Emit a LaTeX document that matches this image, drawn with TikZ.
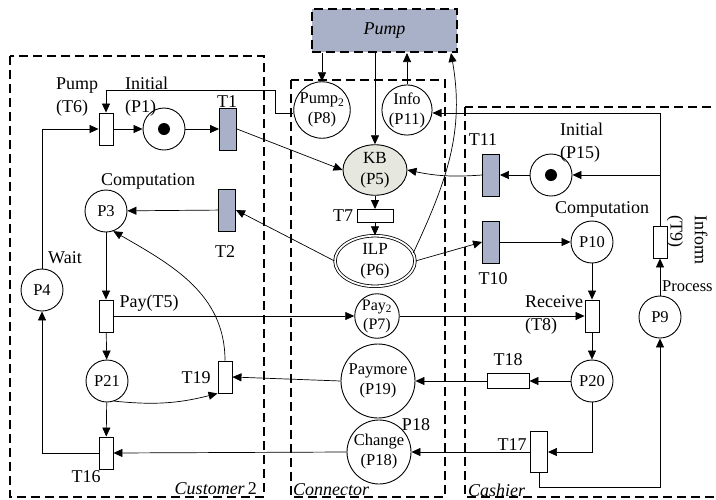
\documentclass[tikz,border=0pt]{standalone}
\usepackage{fontspec}
\setmainfont{Liberation Serif}
\usetikzlibrary{arrows.meta,shapes.geometric}
\definecolor{transfill}{RGB}{169,177,200}
\definecolor{kbfill}{RGB}{230,231,222}

\begin{document}
\begin{tikzpicture}[x=1pt, y=-1pt, >={Triangle[length=9pt,width=8pt]},
    every node/.style={inner sep=0pt},
    placenode/.style={circle, draw, line width=0.9pt, minimum size=42pt, align=center,
      font=\fontsize{16.5}{20}\selectfont},
    tokendot/.style={circle, fill, minimum size=12pt},
    transnode/.style={rectangle, draw, line width=0.9pt, fill=white, minimum width=14pt, minimum height=32pt},
    ftrans/.style={transnode, fill=transfill, minimum width=17pt, minimum height=42pt},
    htrans/.style={transnode, minimum width=36pt, minimum height=13pt},
    groupbox/.style={line width=2pt, dash pattern=on 9pt off 5pt},
    lbl/.style={font=\fontsize{18}{23}\selectfont, align=left},
    flow/.style={->, line width=0.7pt}]
    \useasboundingbox (0,0) rectangle (716,499);

    % Dashed boxes for the three parts
    \draw[groupbox] (10,56) rectangle (264,497);
    \draw[groupbox] (291,80) rectangle (445,497);
    \draw[groupbox] (465,107) rectangle (730,497);
    \node[lbl, anchor=east] (cust) at (257,489) {\textit{Customer}\,2};
    \node[lbl, anchor=west] (conn) at (293,490) {\textit{Connector}};
    \node[lbl, anchor=west] (cash) at (468,490) {\textit{Cashier}};

    % Pump box on top
    \node[groupbox, draw, fill=transfill, minimum width=145pt, minimum height=43pt,
      font=\fontsize{18}{22}\selectfont] (pump) at (384.5,30.5) {\textit{Pump}};

    % Customer part
    \node[placenode] (p1) at (164,129) {};
    \node[tokendot] (tok1) at (p1) {};
    \node[transnode] (t6) at (106,129) {};
    \node[ftrans] (t1) at (228,129) {};
    \node[placenode] (p4) at (42,290) {P4};
    \node[placenode] (p3) at (106,211) {P3};
    \node[ftrans] (t2) at (227,210) {};
    \node[transnode] (t5) at (106,316) {};
    \node[placenode] (p21) at (107,381) {P21};
    \node[transnode] (t19) at (225,377) {};
    \node[transnode] (t16) at (106,453) {};

    \node[lbl, anchor=west] (lt6) at (56,97) {Pump\\(T6)};
    \node[lbl, anchor=west] (lp1) at (125,97) {Initial\\(P1)};
    \node[lbl] (lt1) at (227,102) {T1};
    \node[lbl] (lp3) at (148,181) {Computation};
    \node[lbl] (lt2) at (225,252) {T2};
    \node[lbl] (lp4) at (65,258) {Wait};
    \node[lbl] (lt5) at (149,303) {Pay(T5)};
    \node[lbl] (lt19) at (196,378) {T19};
    \node[lbl] (lt16) at (86,477) {T16};

    % Connector part
    \node[placenode, minimum size=50pt] (p8) at (322,110) {Pump\textsubscript{2}\\(P8)};
    \node[placenode, minimum size=48pt] (p11) at (407,110) {Info\\(P11)};
    \node[ellipse, draw, line width=0.9pt, fill=kbfill, minimum width=64pt, minimum height=42pt,
      align=center, font=\fontsize{17}{21}\selectfont] (p5) at (375,170) {KB\\(P5)};
    \node[htrans] (t7) at (375,216) {};
    \node[ellipse, draw, line width=0.8pt, double, double distance=1.8pt, minimum width=80pt,
      minimum height=48pt, align=center, font=\fontsize{17}{21}\selectfont] (p6) at (375,261) {ILP\\(P6)};
    \node[placenode, minimum size=40pt, font=\fontsize{16}{19}\selectfont] (p7) at (377,316) {Pay\textsubscript{2}\\(P7)};
    \node[placenode, minimum size=74pt] (p19) at (378,381) {Paymore\\(P19)};
    \node[placenode, minimum size=64pt] (p18) at (379,452) {Change\\(P18)};

    \node[lbl] (lt7) at (343,216) {T7};
    \node[lbl] (lp18) at (416,425) {P18};

    % Cashier part
    \node[ftrans] (t11) at (491,175) {};
    \node[placenode] (p15) at (551,175) {};
    \node[tokendot] (tok15) at (p15) {};
    \node[ftrans] (t10) at (491,242) {};
    \node[placenode] (p10) at (592,242) {P10};
    \node[transnode] (t9) at (660,242) {};
    \node[transnode] (t8) at (592,316) {};
    \node[placenode] (p9) at (660,317) {P9};
    \node[htrans, minimum width=42pt, minimum height=15pt] (t18) at (508,381) {};
    \node[placenode] (p20) at (592,381) {P20};
    \node[transnode, minimum width=17pt, minimum height=41pt] (t17) at (539,452) {};

    \node[lbl] (lt11) at (483,140) {T11};
    \node[lbl, anchor=west] (lp15) at (560,143) {Initial\\(P15)};
    \node[lbl] (lp10) at (602,209) {Computation};
    \node[lbl] (lt10) at (493,279) {T10};
    \node[lbl, anchor=west] (lt8) at (525,315) {Receive\\(T8)};
    \node[lbl] (lt18) at (508,360) {T18};
    \node[lbl] (lt17) at (512,445) {T17};
    \node[lbl, anchor=west, font=\fontsize{16.5}{20}\selectfont] (lp9) at (662,286) {Process};
    \node[lbl, rotate=-90] (lt9a) at (675,231) {(T9)};
    \node[lbl, rotate=-90] (lt9b) at (701,240) {Inform};

    % Arcs of the customer part
    \draw[flow] (p4.north) |- (t6.west);
    \draw[flow] (t6) -- (p1);
    \draw[flow] (p1) -- (t1);
    \draw[flow] (t1.east) -- (p5.west);
    \draw[flow] (t2) -- (p3);
    \draw[flow] (p3) -- (t5);
    \draw[flow] (t5) -- (p21);
    \draw[flow] (p21) -- (t16);
    \draw[flow] (t16.west) -| (p4.south);
    \draw[flow] (t19.north) to[out=90, in=-30] (p3.-70);
    \draw[flow] (p21.-70) to[bend right=10] (t19.south west);

    % Arcs of the connector part
    \coordinate (bendA) at (275,90);
    \draw[flow] ([yshift=-3pt]p8.west) -| (bendA) -| (t6.north);
    \draw[flow] (pump.south -| p8.north) -- (p8.north);
    \draw[flow] (pump.south -| p5.north) -- (p5.north);
    \draw[flow] (p11.north) -- (p11.north |- pump.south);
    \draw[flow] (p6.12) to[out=65, in=-80] ([xshift=-7pt]pump.south east);
    \draw[flow] (p5) -- (t7);
    \draw[flow] (t7) -- (p6);
    \draw[flow] (p6.west) -- (t2.east);
    \draw[flow] (p6.east) -- (t10.west);
    \draw[flow] (t5.east) -- (p7.west);
    \draw[flow] (p7.east) -- (t8.west);
    \draw[flow] (p19.west) -- (t19.east);
    \draw[flow] (p18.west) -- (t16.east);

    % Arcs of the cashier part
    \draw[flow] (t11.west) to[bend left=8] (p5.east);
    \draw[flow] (p15) -- (t11);
    \draw[flow] (t9.north) |- ([yshift=-3pt]p11.east);
    \draw[flow] (t9.north) |- (p15.east);
    \draw[flow] (t10) -- (p10);
    \draw[flow] (p10) -- (t8);
    \draw[flow] (t8) -- (p20);
    \draw[flow] (p9) -- (t9);
    \draw[flow] (p20) -- (t18);
    \draw[flow] (t18) -- (p19);
    \draw[flow] (p20.south) |- (t17.east);
    \draw[flow] (t17.west) -- (p18.east);
    \draw[flow] (t17.south) -- ++(0,14) -| (p9.south);
  \end{tikzpicture}
\end{document}
